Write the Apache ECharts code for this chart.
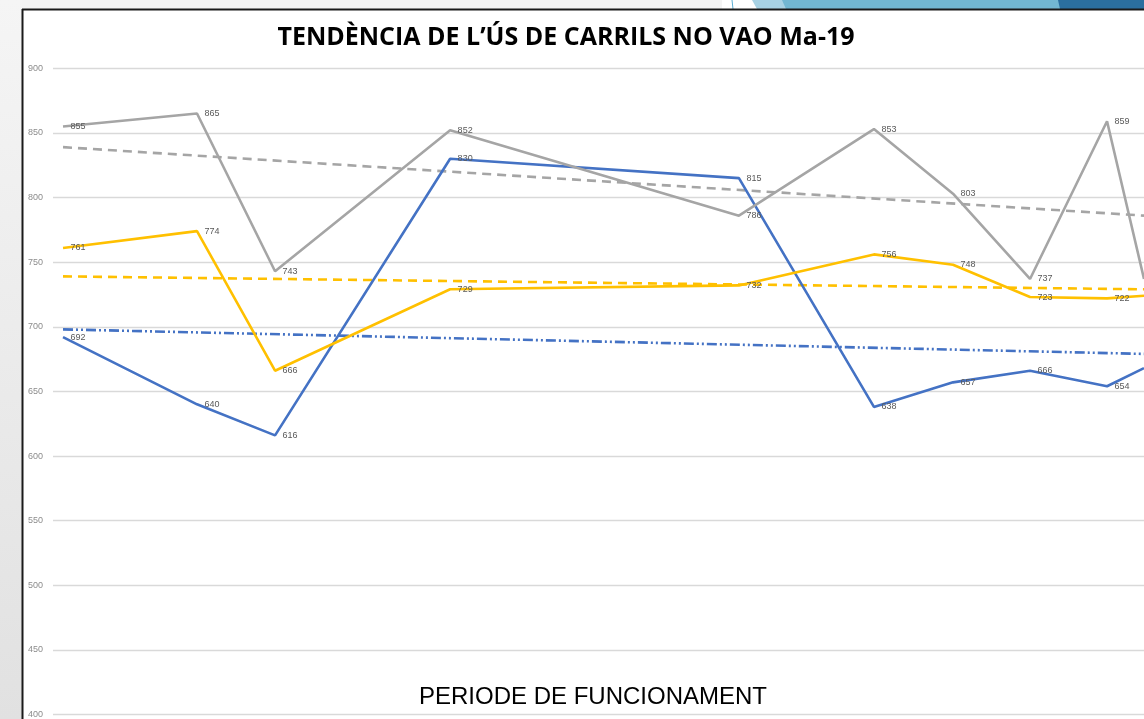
<!DOCTYPE html>
<html>
<head>
<meta charset="utf-8">
<script src="https://cdn.jsdelivr.net/npm/echarts@6/dist/echarts.min.js"></script>
<style>
html,body{margin:0;padding:0;background:#fff;}
#c{width:1144px;height:719px;}
</style>
</head>
<body>
<div id="c"></div>
<script>
// ---- data ----
const titleText = 'TENDÈNCIA DE L’ÚS DE CARRILS NO VAO Ma-19';
const xAxisName = 'PERIODE DE FUNCIONAMENT';
// position of each measurement along the operating period (axis units)
const periods = [0, 5.22, 8.26, 15.08, 26.33, 31.59, 34.67, 37.67, 40.67, 42.11];
const blueValues = [692, 640, 616, 830, 815, 638, 657, 666, 654, 668];
const grayValues = [855, 865, 743, 852, 786, 853, 803, 737, 859, 737];
const yellowValues = [761, 774, 666, 729, 732, 756, 748, 723, 722, 724];
// linear trend lines (start, end)
const trendX = [0, 42.11];
const blueTrend = [698, 679];
const grayTrend = [839, 786];
const yellowTrend = [739, 729];
const yTicks = [400, 450, 500, 550, 600, 650, 700, 750, 800, 850, 900];

const pairs = (xs, ys) => xs.map((x, i) => [x, ys[i]]);
const lastIdx = periods.length - 1;

const chart = echarts.init(document.getElementById('c'), null, {renderer: 'canvas'});

const lbl = {
  show: true, position: 'right', distance: 7,
  fontSize: 9, color: '#595959',
  fontFamily: 'Liberation Sans Narrow, Liberation Sans, sans-serif',
  formatter: p => (p.dataIndex === lastIdx ? '' : String(p.value[1]))
};

function lineSeries(name, vals, color) {
  return {
    name, type: 'line', data: pairs(periods, vals),
    symbol: 'circle', symbolSize: 1, showSymbol: true,
    itemStyle: {color: 'rgba(0,0,0,0)'},
    clip: true,
    lineStyle: {color, width: 2.6},
    label: lbl, labelLayout: {hideOverlap: false},
    z: 3
  };
}
function trendSeries(name, vals, color, dash) {
  return {
    name, type: 'line', data: pairs(trendX, vals),
    symbol: 'none', clip: true, silent: true,
    lineStyle: {color, width: 2.6, type: dash},
    z: 2
  };
}

chart.setOption({
  animation: false,
  backgroundColor: '#ffffff',
  grid: {left: 53, right: 0, top: 68.3, bottom: 1, containLabel: false},
  xAxis: {
    type: 'value', min: -0.39, max: 42.11,
    axisLine: {show: false}, axisTick: {show: false},
    axisLabel: {show: false}, splitLine: {show: false}
  },
  yAxis: {
    type: 'value', min: yTicks[0], max: yTicks[yTicks.length - 1], interval: 50,
    axisLine: {show: false}, axisTick: {show: false},
    axisLabel: {margin: 10, fontSize: 9, color: '#8c8c8c',
      fontFamily: 'Liberation Sans Narrow, Liberation Sans, sans-serif'},
    splitLine: {lineStyle: {color: '#d9d9d9', width: 1.3}}
  },
  series: [
    trendSeries('Tendència blau', blueTrend, '#4472C4', [10, 3, 2, 3, 2, 3]),
    trendSeries('Tendència gris', grayTrend, '#A5A5A5', [9, 6]),
    trendSeries('Tendència groc', yellowTrend, '#FFC000', [9, 6]),
    lineSeries('Sèrie blava', blueValues, '#4472C4'),
    lineSeries('Sèrie grisa', grayValues, '#A5A5A5'),
    lineSeries('Sèrie groga', yellowValues, '#FFC000')
  ],
  graphic: [
    // left gray panel
    {type: 'rect', z: -10, shape: {x: 0, y: 0, width: 22, height: 719},
      style: {fill: new echarts.graphic.LinearGradient(0, 0, 0, 1, [
        {offset: 0, color: '#f5f5f5'}, {offset: 1, color: '#e1e1e1'}])}},
    // top strip
    {type: 'rect', z: -10, shape: {x: 22, y: 0, width: 700, height: 9},
      style: {fill: '#f4f4f4'}},
    {type: 'rect', z: -10, shape: {x: 722, y: 0, width: 422, height: 9},
      style: {fill: '#ffffff'}},
    {type: 'line', z: 10, shape: {x1: 732, y1: 0, x2: 733, y2: 9},
      style: {stroke: '#5aaed3', lineWidth: 1}},
    {type: 'polygon', z: 10, shape: {points: [[752, 0], [1144, 0], [1144, 9], [757, 9]]},
      style: {fill: '#a8d2e4'}},
    {type: 'polygon', z: 10, shape: {points: [[782, 0], [1144, 0], [1144, 9], [786, 9]]},
      style: {fill: '#72b7d2'}},
    {type: 'polygon', z: 10, shape: {points: [[1058, 0], [1144, 0], [1144, 9], [1060, 9]]},
      style: {fill: '#2b6f9f'}},
    // frame
    {type: 'line', z: 11, shape: {x1: 22, y1: 9.5, x2: 1144, y2: 9.5},
      style: {stroke: '#1a1a1a', lineWidth: 2}},
    {type: 'line', z: 11, shape: {x1: 22.5, y1: 9, x2: 22.5, y2: 719},
      style: {stroke: '#1a1a1a', lineWidth: 2}},
    // title
    {type: 'text', z: 12, x: 566, y: 38,
      style: {text: titleText, textAlign: 'center', textVerticalAlign: 'middle',
        fontSize: 25, fontWeight: 'bold', fill: '#000000',
        fontFamily: 'Open Sans, Noto Sans, sans-serif'}},
    // axis name
    {type: 'text', z: 12, x: 593, y: 697,
      style: {text: xAxisName, textAlign: 'center', textVerticalAlign: 'middle',
        fontSize: 24, fill: '#000000',
        fontFamily: 'Liberation Sans, Arial, sans-serif'}}
  ]
});
</script>
</body>
</html>
